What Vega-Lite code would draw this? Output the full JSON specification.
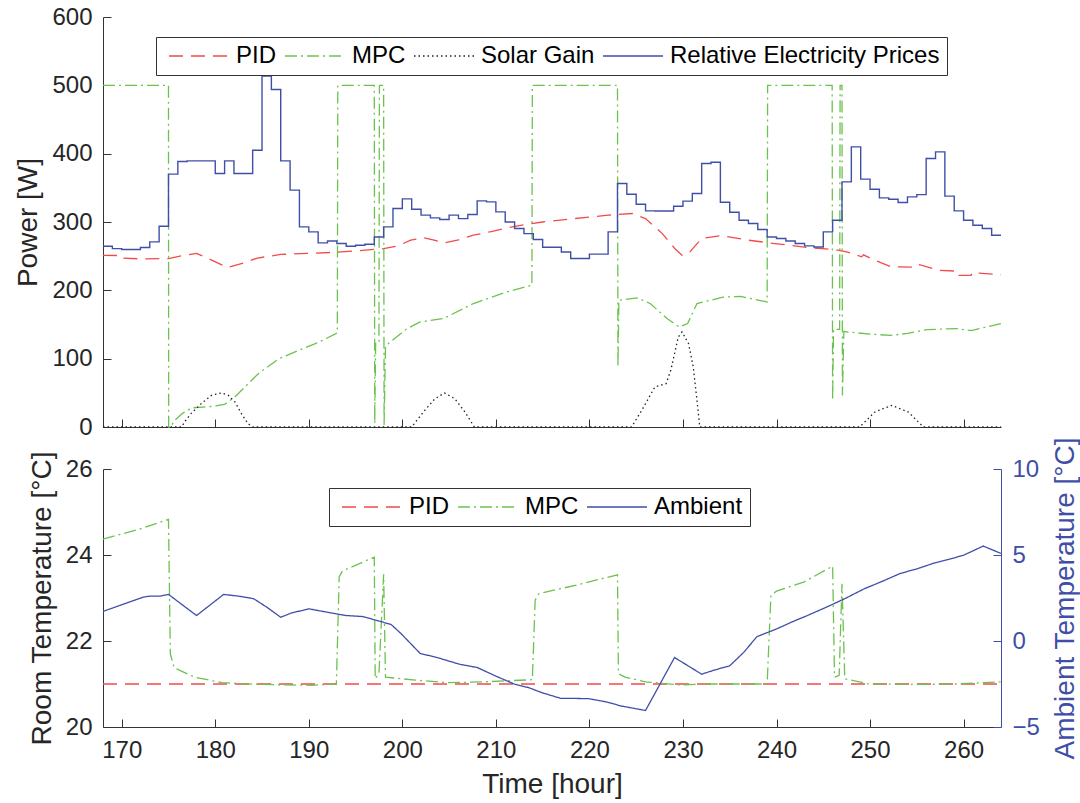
{
  "$schema": "https://vega.github.io/schema/vega-lite/v6.json",
  "background": "white",
  "padding": {"left": 14, "top": 5, "right": 4, "bottom": 2},
  "spacing": 42,
  "bounds": "flush",
  "config": {
    "font": "Liberation Sans",
    "view": {"stroke": null},
    "axis": {
      "grid": false,
      "domainColor": "#333333",
      "tickColor": "#333333",
      "labelColor": "#262626",
      "titleColor": "#262626",
      "labelFont": "Liberation Sans",
      "titleFont": "Liberation Sans",
      "labelFontSize": 24,
      "titleFontSize": 28,
      "titleFontWeight": "normal",
      "tickSize": -8,
      "labelPadding": 19,
      "titlePadding": 9,
      "domainWidth": 1,
      "tickWidth": 1
    },
    "legend": {
      "labelFont": "Liberation Sans",
      "labelFontSize": 24,
      "labelColor": "#000000",
      "symbolType": "M-3,0H3",
      "symbolSize": 400,
      "symbolOffset": 24,
      "symbolStrokeWidth": 1.3,
      "symbolFillColor": "transparent",
      "strokeColor": "#333333",
      "fillColor": "white",
      "padding": 7,
      "columnPadding": 2,
      "labelOffset": 25,
      "labelLimit": 400
    }
  },
  "resolve": {
    "scale": {"color": "independent", "strokeDash": "independent", "x": "independent"},
    "legend": {"color": "independent", "strokeDash": "independent"}
  },
  "datasets": {
    "power": [
      {"s": "PID", "t": 168, "v": 251.3},
      {"s": "PID", "t": 169.5, "v": 251},
      {"s": "PID", "t": 169.6, "v": 247.5},
      {"s": "PID", "t": 172, "v": 246},
      {"s": "PID", "t": 175, "v": 246.5},
      {"s": "PID", "t": 176.5, "v": 251},
      {"s": "PID", "t": 178, "v": 254},
      {"s": "PID", "t": 179.5, "v": 245},
      {"s": "PID", "t": 181.3, "v": 233.4},
      {"s": "PID", "t": 183, "v": 240},
      {"s": "PID", "t": 184.5, "v": 247.2},
      {"s": "PID", "t": 187, "v": 252.5},
      {"s": "PID", "t": 189.8, "v": 254},
      {"s": "PID", "t": 192.5, "v": 255.5},
      {"s": "PID", "t": 195.1, "v": 257.7},
      {"s": "PID", "t": 198, "v": 261},
      {"s": "PID", "t": 199.5, "v": 265},
      {"s": "PID", "t": 200.9, "v": 273.4},
      {"s": "PID", "t": 202.3, "v": 276.8},
      {"s": "PID", "t": 203.5, "v": 273},
      {"s": "PID", "t": 204.5, "v": 269.4},
      {"s": "PID", "t": 206, "v": 274},
      {"s": "PID", "t": 207.6, "v": 280.7},
      {"s": "PID", "t": 209.5, "v": 286},
      {"s": "PID", "t": 211.2, "v": 291.4},
      {"s": "PID", "t": 213, "v": 296},
      {"s": "PID", "t": 215, "v": 300},
      {"s": "PID", "t": 218.4, "v": 305},
      {"s": "PID", "t": 222, "v": 310},
      {"s": "PID", "t": 224.6, "v": 312.4},
      {"s": "PID", "t": 226, "v": 305},
      {"s": "PID", "t": 227.8, "v": 283},
      {"s": "PID", "t": 229.2, "v": 260},
      {"s": "PID", "t": 229.9, "v": 251.4},
      {"s": "PID", "t": 230.6, "v": 253.8},
      {"s": "PID", "t": 231.3, "v": 265},
      {"s": "PID", "t": 232, "v": 275.8},
      {"s": "PID", "t": 234.1, "v": 280.2},
      {"s": "PID", "t": 237, "v": 273.4},
      {"s": "PID", "t": 239.8, "v": 268.5},
      {"s": "PID", "t": 243.4, "v": 262.6},
      {"s": "PID", "t": 246.2, "v": 259.7},
      {"s": "PID", "t": 247.6, "v": 256},
      {"s": "PID", "t": 249.1, "v": 249},
      {"s": "PID", "t": 249.3, "v": 252},
      {"s": "PID", "t": 250.5, "v": 244},
      {"s": "PID", "t": 252.3, "v": 234.3},
      {"s": "PID", "t": 255.1, "v": 234},
      {"s": "PID", "t": 255.3, "v": 237.5},
      {"s": "PID", "t": 257.3, "v": 229.4},
      {"s": "PID", "t": 259.4, "v": 228},
      {"s": "PID", "t": 259.5, "v": 222},
      {"s": "PID", "t": 260.8, "v": 222},
      {"s": "PID", "t": 260.9, "v": 226},
      {"s": "PID", "t": 264, "v": 223},

      {"s": "MPC", "t": 168, "v": 500},
      {"s": "MPC", "t": 175.0, "v": 500},
      {"s": "MPC", "t": 175.02, "v": 0},
      {"s": "MPC", "t": 175.25, "v": 0},
      {"s": "MPC", "t": 175.6, "v": 9},
      {"s": "MPC", "t": 176.5, "v": 20},
      {"s": "MPC", "t": 177.5, "v": 28},
      {"s": "MPC", "t": 179.6, "v": 30},
      {"s": "MPC", "t": 181, "v": 33},
      {"s": "MPC", "t": 182.1, "v": 44},
      {"s": "MPC", "t": 184.6, "v": 78},
      {"s": "MPC", "t": 186.8, "v": 100},
      {"s": "MPC", "t": 188.9, "v": 112},
      {"s": "MPC", "t": 191.1, "v": 124.4},
      {"s": "MPC", "t": 193.05, "v": 137.6},
      {"s": "MPC", "t": 193.1, "v": 500},
      {"s": "MPC", "t": 197.0, "v": 500},
      {"s": "MPC", "t": 197.05, "v": 5},
      {"s": "MPC", "t": 197.15, "v": 125},
      {"s": "MPC", "t": 197.5, "v": 125},
      {"s": "MPC", "t": 197.55, "v": 500},
      {"s": "MPC", "t": 198.0, "v": 500},
      {"s": "MPC", "t": 198.05, "v": 3},
      {"s": "MPC", "t": 198.2, "v": 118},
      {"s": "MPC", "t": 198.5, "v": 122},
      {"s": "MPC", "t": 200.5, "v": 144},
      {"s": "MPC", "t": 201.9, "v": 153.7},
      {"s": "MPC", "t": 204.4, "v": 158.7},
      {"s": "MPC", "t": 207.6, "v": 180.7},
      {"s": "MPC", "t": 211.2, "v": 197.7},
      {"s": "MPC", "t": 213.85, "v": 207.5},
      {"s": "MPC", "t": 213.9, "v": 500},
      {"s": "MPC", "t": 223.0, "v": 500},
      {"s": "MPC", "t": 223.05, "v": 88},
      {"s": "MPC", "t": 223.15, "v": 185.5},
      {"s": "MPC", "t": 225.1, "v": 189},
      {"s": "MPC", "t": 226.5, "v": 180.7},
      {"s": "MPC", "t": 228.3, "v": 158.7},
      {"s": "MPC", "t": 229.6, "v": 146.4},
      {"s": "MPC", "t": 230.5, "v": 151.4},
      {"s": "MPC", "t": 231.5, "v": 180.7},
      {"s": "MPC", "t": 234.4, "v": 190.3},
      {"s": "MPC", "t": 236.2, "v": 191},
      {"s": "MPC", "t": 239.0, "v": 183},
      {"s": "MPC", "t": 239.05, "v": 500},
      {"s": "MPC", "t": 245.95, "v": 500},
      {"s": "MPC", "t": 246.0, "v": 39},
      {"s": "MPC", "t": 246.1, "v": 143},
      {"s": "MPC", "t": 246.75, "v": 143},
      {"s": "MPC", "t": 246.8, "v": 500},
      {"s": "MPC", "t": 247.0, "v": 500},
      {"s": "MPC", "t": 247.05, "v": 46},
      {"s": "MPC", "t": 247.2, "v": 140},
      {"s": "MPC", "t": 247.6, "v": 139},
      {"s": "MPC", "t": 250, "v": 136},
      {"s": "MPC", "t": 252.2, "v": 134},
      {"s": "MPC", "t": 254, "v": 137},
      {"s": "MPC", "t": 256.1, "v": 142.6},
      {"s": "MPC", "t": 259.3, "v": 144},
      {"s": "MPC", "t": 260.8, "v": 141},
      {"s": "MPC", "t": 264, "v": 151.4},

      {"s": "Solar Gain", "t": 168, "v": 0},
      {"s": "Solar Gain", "t": 176.4, "v": 0},
      {"s": "Solar Gain", "t": 176.8, "v": 8.8},
      {"s": "Solar Gain", "t": 177.4, "v": 19.6},
      {"s": "Solar Gain", "t": 178.5, "v": 34.2},
      {"s": "Solar Gain", "t": 179.6, "v": 46.4},
      {"s": "Solar Gain", "t": 180.65, "v": 49.8},
      {"s": "Solar Gain", "t": 181.4, "v": 46.4},
      {"s": "Solar Gain", "t": 182.1, "v": 36.6},
      {"s": "Solar Gain", "t": 182.8, "v": 19.6},
      {"s": "Solar Gain", "t": 183.5, "v": 5},
      {"s": "Solar Gain", "t": 184, "v": 0},
      {"s": "Solar Gain", "t": 201.0, "v": 0},
      {"s": "Solar Gain", "t": 202.4, "v": 24.4},
      {"s": "Solar Gain", "t": 203.5, "v": 41.5},
      {"s": "Solar Gain", "t": 204.5, "v": 49.8},
      {"s": "Solar Gain", "t": 205.6, "v": 41.5},
      {"s": "Solar Gain", "t": 206.7, "v": 21.9},
      {"s": "Solar Gain", "t": 207.7, "v": 0},
      {"s": "Solar Gain", "t": 224.5, "v": 0},
      {"s": "Solar Gain", "t": 225.6, "v": 24.4},
      {"s": "Solar Gain", "t": 227.0, "v": 58.6},
      {"s": "Solar Gain", "t": 228.2, "v": 63.5},
      {"s": "Solar Gain", "t": 228.7, "v": 83},
      {"s": "Solar Gain", "t": 229.5, "v": 131.8},
      {"s": "Solar Gain", "t": 229.9, "v": 139},
      {"s": "Solar Gain", "t": 230.6, "v": 122},
      {"s": "Solar Gain", "t": 231.1, "v": 87.8},
      {"s": "Solar Gain", "t": 231.5, "v": 39},
      {"s": "Solar Gain", "t": 231.8, "v": 0},
      {"s": "Solar Gain", "t": 248.9, "v": 0},
      {"s": "Solar Gain", "t": 250.5, "v": 21.9},
      {"s": "Solar Gain", "t": 252.3, "v": 31.7},
      {"s": "Solar Gain", "t": 254.1, "v": 21.9},
      {"s": "Solar Gain", "t": 255.7, "v": 0},
      {"s": "Solar Gain", "t": 264, "v": 0},

      {"s": "Relative Electricity Prices", "t": 168, "v": 264.6},
      {"s": "Relative Electricity Prices", "t": 169, "v": 261},
      {"s": "Relative Electricity Prices", "t": 170, "v": 259.7},
      {"s": "Relative Electricity Prices", "t": 171, "v": 259.7},
      {"s": "Relative Electricity Prices", "t": 172, "v": 262.6},
      {"s": "Relative Electricity Prices", "t": 173, "v": 270.9},
      {"s": "Relative Electricity Prices", "t": 174, "v": 293.8},
      {"s": "Relative Electricity Prices", "t": 175, "v": 370},
      {"s": "Relative Electricity Prices", "t": 176, "v": 388.6},
      {"s": "Relative Electricity Prices", "t": 177, "v": 389.5},
      {"s": "Relative Electricity Prices", "t": 178, "v": 389.5},
      {"s": "Relative Electricity Prices", "t": 179, "v": 389.5},
      {"s": "Relative Electricity Prices", "t": 180, "v": 371},
      {"s": "Relative Electricity Prices", "t": 181, "v": 389.5},
      {"s": "Relative Electricity Prices", "t": 182, "v": 371},
      {"s": "Relative Electricity Prices", "t": 183, "v": 371},
      {"s": "Relative Electricity Prices", "t": 184, "v": 405},
      {"s": "Relative Electricity Prices", "t": 185, "v": 513.5},
      {"s": "Relative Electricity Prices", "t": 186, "v": 494},
      {"s": "Relative Electricity Prices", "t": 187, "v": 389.5},
      {"s": "Relative Electricity Prices", "t": 188, "v": 346.6},
      {"s": "Relative Electricity Prices", "t": 189, "v": 292.8},
      {"s": "Relative Electricity Prices", "t": 190, "v": 285.5},
      {"s": "Relative Electricity Prices", "t": 191, "v": 269.4},
      {"s": "Relative Electricity Prices", "t": 192, "v": 272.3},
      {"s": "Relative Electricity Prices", "t": 193, "v": 268.5},
      {"s": "Relative Electricity Prices", "t": 194, "v": 264.6},
      {"s": "Relative Electricity Prices", "t": 195, "v": 266},
      {"s": "Relative Electricity Prices", "t": 196, "v": 267.5},
      {"s": "Relative Electricity Prices", "t": 197, "v": 278},
      {"s": "Relative Electricity Prices", "t": 198, "v": 292.8},
      {"s": "Relative Electricity Prices", "t": 199, "v": 319.8},
      {"s": "Relative Electricity Prices", "t": 200, "v": 333.8},
      {"s": "Relative Electricity Prices", "t": 201, "v": 318.7},
      {"s": "Relative Electricity Prices", "t": 202, "v": 310},
      {"s": "Relative Electricity Prices", "t": 203, "v": 306},
      {"s": "Relative Electricity Prices", "t": 204, "v": 303.6},
      {"s": "Relative Electricity Prices", "t": 205, "v": 310},
      {"s": "Relative Electricity Prices", "t": 206, "v": 305},
      {"s": "Relative Electricity Prices", "t": 207, "v": 311},
      {"s": "Relative Electricity Prices", "t": 208, "v": 330.9},
      {"s": "Relative Electricity Prices", "t": 209, "v": 329.5},
      {"s": "Relative Electricity Prices", "t": 210, "v": 314.8},
      {"s": "Relative Electricity Prices", "t": 211, "v": 300},
      {"s": "Relative Electricity Prices", "t": 212, "v": 290.5},
      {"s": "Relative Electricity Prices", "t": 213, "v": 283},
      {"s": "Relative Electricity Prices", "t": 214, "v": 274.4},
      {"s": "Relative Electricity Prices", "t": 215, "v": 263},
      {"s": "Relative Electricity Prices", "t": 216, "v": 263},
      {"s": "Relative Electricity Prices", "t": 217, "v": 256.2},
      {"s": "Relative Electricity Prices", "t": 218, "v": 246.5},
      {"s": "Relative Electricity Prices", "t": 219, "v": 246.5},
      {"s": "Relative Electricity Prices", "t": 220, "v": 253},
      {"s": "Relative Electricity Prices", "t": 221, "v": 253},
      {"s": "Relative Electricity Prices", "t": 222, "v": 285.5},
      {"s": "Relative Electricity Prices", "t": 223, "v": 356.4},
      {"s": "Relative Electricity Prices", "t": 224, "v": 340.7},
      {"s": "Relative Electricity Prices", "t": 225, "v": 326},
      {"s": "Relative Electricity Prices", "t": 226, "v": 316.3},
      {"s": "Relative Electricity Prices", "t": 227, "v": 316},
      {"s": "Relative Electricity Prices", "t": 228, "v": 316},
      {"s": "Relative Electricity Prices", "t": 229, "v": 323},
      {"s": "Relative Electricity Prices", "t": 230, "v": 330.5},
      {"s": "Relative Electricity Prices", "t": 231, "v": 341.7},
      {"s": "Relative Electricity Prices", "t": 232, "v": 385.7},
      {"s": "Relative Electricity Prices", "t": 233, "v": 387.5},
      {"s": "Relative Electricity Prices", "t": 234, "v": 329},
      {"s": "Relative Electricity Prices", "t": 235, "v": 314.3},
      {"s": "Relative Electricity Prices", "t": 236, "v": 302.6},
      {"s": "Relative Electricity Prices", "t": 237, "v": 297.8},
      {"s": "Relative Electricity Prices", "t": 238, "v": 289},
      {"s": "Relative Electricity Prices", "t": 239, "v": 278},
      {"s": "Relative Electricity Prices", "t": 240, "v": 275.8},
      {"s": "Relative Electricity Prices", "t": 241, "v": 272.3},
      {"s": "Relative Electricity Prices", "t": 242, "v": 268.5},
      {"s": "Relative Electricity Prices", "t": 243, "v": 265},
      {"s": "Relative Electricity Prices", "t": 244, "v": 263.5},
      {"s": "Relative Electricity Prices", "t": 245, "v": 285.5},
      {"s": "Relative Electricity Prices", "t": 246, "v": 302.6},
      {"s": "Relative Electricity Prices", "t": 247, "v": 358.7},
      {"s": "Relative Electricity Prices", "t": 248, "v": 410},
      {"s": "Relative Electricity Prices", "t": 249, "v": 362.7},
      {"s": "Relative Electricity Prices", "t": 250, "v": 348},
      {"s": "Relative Electricity Prices", "t": 251, "v": 335.3},
      {"s": "Relative Electricity Prices", "t": 252, "v": 333.4},
      {"s": "Relative Electricity Prices", "t": 253, "v": 328.5},
      {"s": "Relative Electricity Prices", "t": 254, "v": 336.8},
      {"s": "Relative Electricity Prices", "t": 255, "v": 340},
      {"s": "Relative Electricity Prices", "t": 256, "v": 393},
      {"s": "Relative Electricity Prices", "t": 257, "v": 402.6},
      {"s": "Relative Electricity Prices", "t": 258, "v": 337.8},
      {"s": "Relative Electricity Prices", "t": 259, "v": 316.3},
      {"s": "Relative Electricity Prices", "t": 260, "v": 302.6},
      {"s": "Relative Electricity Prices", "t": 261, "v": 295.3},
      {"s": "Relative Electricity Prices", "t": 262, "v": 290.5},
      {"s": "Relative Electricity Prices", "t": 263, "v": 280.7},
      {"s": "Relative Electricity Prices", "t": 264, "v": 280.7}
    ],
    "temp": [
      {"s": "PID", "t": 168, "v": 21.0},
      {"s": "PID", "t": 216, "v": 21.0},
      {"s": "PID", "t": 264, "v": 21.0},

      {"s": "MPC", "t": 168, "v": 24.37},
      {"s": "MPC", "t": 171.9, "v": 24.6},
      {"s": "MPC", "t": 175.0, "v": 24.83},
      {"s": "MPC", "t": 175.2, "v": 21.7},
      {"s": "MPC", "t": 175.6, "v": 21.38},
      {"s": "MPC", "t": 177.8, "v": 21.16},
      {"s": "MPC", "t": 180.7, "v": 21.03},
      {"s": "MPC", "t": 184.8, "v": 20.99},
      {"s": "MPC", "t": 190.3, "v": 20.97},
      {"s": "MPC", "t": 192.95, "v": 21.0},
      {"s": "MPC", "t": 193.25, "v": 23.49},
      {"s": "MPC", "t": 193.6, "v": 23.63},
      {"s": "MPC", "t": 197.0, "v": 23.95},
      {"s": "MPC", "t": 197.1, "v": 21.12},
      {"s": "MPC", "t": 197.5, "v": 21.24},
      {"s": "MPC", "t": 198.0, "v": 23.55},
      {"s": "MPC", "t": 198.2, "v": 21.16},
      {"s": "MPC", "t": 201.4, "v": 21.09},
      {"s": "MPC", "t": 205, "v": 21.03},
      {"s": "MPC", "t": 208.7, "v": 21.05},
      {"s": "MPC", "t": 213.9, "v": 21.1},
      {"s": "MPC", "t": 214.2, "v": 22.95},
      {"s": "MPC", "t": 214.6, "v": 23.1},
      {"s": "MPC", "t": 218.6, "v": 23.3},
      {"s": "MPC", "t": 223.0, "v": 23.54},
      {"s": "MPC", "t": 223.1, "v": 21.24},
      {"s": "MPC", "t": 223.8, "v": 21.16},
      {"s": "MPC", "t": 226, "v": 21.05},
      {"s": "MPC", "t": 229.6, "v": 20.98},
      {"s": "MPC", "t": 233.3, "v": 21.0},
      {"s": "MPC", "t": 239.0, "v": 21.0},
      {"s": "MPC", "t": 239.4, "v": 23.06},
      {"s": "MPC", "t": 240, "v": 23.16},
      {"s": "MPC", "t": 242.9, "v": 23.37},
      {"s": "MPC", "t": 246.0, "v": 23.74},
      {"s": "MPC", "t": 246.2, "v": 21.16},
      {"s": "MPC", "t": 246.7, "v": 21.2},
      {"s": "MPC", "t": 247.0, "v": 23.33},
      {"s": "MPC", "t": 247.3, "v": 21.12},
      {"s": "MPC", "t": 249.9, "v": 21.0},
      {"s": "MPC", "t": 255.4, "v": 20.99},
      {"s": "MPC", "t": 259.1, "v": 21.0},
      {"s": "MPC", "t": 264, "v": 21.05},

      {"s": "Ambient", "t": 168, "v": 1.72},
      {"s": "Ambient", "t": 169.3, "v": 1.97},
      {"s": "Ambient", "t": 172.3, "v": 2.55},
      {"s": "Ambient", "t": 173.0, "v": 2.61},
      {"s": "Ambient", "t": 174.1, "v": 2.61},
      {"s": "Ambient", "t": 175.0, "v": 2.71},
      {"s": "Ambient", "t": 178.0, "v": 1.48},
      {"s": "Ambient", "t": 180.9, "v": 2.71},
      {"s": "Ambient", "t": 182.6, "v": 2.6},
      {"s": "Ambient", "t": 184.1, "v": 2.46},
      {"s": "Ambient", "t": 185.5, "v": 1.97},
      {"s": "Ambient", "t": 187.0, "v": 1.38},
      {"s": "Ambient", "t": 188.1, "v": 1.62},
      {"s": "Ambient", "t": 190.0, "v": 1.87},
      {"s": "Ambient", "t": 192.5, "v": 1.62},
      {"s": "Ambient", "t": 194.0, "v": 1.48},
      {"s": "Ambient", "t": 195.8, "v": 1.42},
      {"s": "Ambient", "t": 197.3, "v": 1.19},
      {"s": "Ambient", "t": 198.8, "v": 0.96},
      {"s": "Ambient", "t": 199.9, "v": 0.41},
      {"s": "Ambient", "t": 201.9, "v": -0.72},
      {"s": "Ambient", "t": 203.9, "v": -0.99},
      {"s": "Ambient", "t": 206.1, "v": -1.35},
      {"s": "Ambient", "t": 208.0, "v": -1.54},
      {"s": "Ambient", "t": 210.2, "v": -2.09},
      {"s": "Ambient", "t": 212.0, "v": -2.51},
      {"s": "Ambient", "t": 213.5, "v": -2.71},
      {"s": "Ambient", "t": 214.9, "v": -3.0},
      {"s": "Ambient", "t": 216.9, "v": -3.33},
      {"s": "Ambient", "t": 219.9, "v": -3.35},
      {"s": "Ambient", "t": 221.9, "v": -3.55},
      {"s": "Ambient", "t": 223.4, "v": -3.78},
      {"s": "Ambient", "t": 226.0, "v": -4.04},
      {"s": "Ambient", "t": 229.1, "v": -0.96},
      {"s": "Ambient", "t": 232.0, "v": -1.93},
      {"s": "Ambient", "t": 233.3, "v": -1.7},
      {"s": "Ambient", "t": 235.0, "v": -1.44},
      {"s": "Ambient", "t": 236.5, "v": -0.66},
      {"s": "Ambient", "t": 237.9, "v": 0.25},
      {"s": "Ambient", "t": 240.0, "v": 0.7},
      {"s": "Ambient", "t": 242.0, "v": 1.19},
      {"s": "Ambient", "t": 243.3, "v": 1.48},
      {"s": "Ambient", "t": 245.1, "v": 1.91},
      {"s": "Ambient", "t": 247.3, "v": 2.46},
      {"s": "Ambient", "t": 249.4, "v": 3.04},
      {"s": "Ambient", "t": 251.4, "v": 3.49},
      {"s": "Ambient", "t": 253.2, "v": 3.92},
      {"s": "Ambient", "t": 255.1, "v": 4.21},
      {"s": "Ambient", "t": 256.9, "v": 4.54},
      {"s": "Ambient", "t": 258.4, "v": 4.74},
      {"s": "Ambient", "t": 260.0, "v": 4.99},
      {"s": "Ambient", "t": 261.0, "v": 5.24},
      {"s": "Ambient", "t": 262.1, "v": 5.52},
      {"s": "Ambient", "t": 264.0, "v": 5.09}
    ]
  },
  "vconcat": [
    {
      "width": 898,
      "height": 410,
      "data": {"name": "power"},
      "encoding": {
        "x": {"field": "t", "type": "quantitative", "scale": {"domain": [168, 264], "nice": false, "zero": false},
              "axis": {"values": [170, 180, 190, 200, 210, 220, 230, 240, 250, 260], "labels": false, "title": null}},
        "y": {"field": "v", "type": "quantitative", "scale": {"domain": [0, 600], "nice": false},
              "axis": {"values": [0, 100, 200, 300, 400, 500, 600], "title": "Power [W]"}},
        "color": {"field": "s", "type": "nominal",
                  "scale": {"domain": ["PID", "MPC", "Solar Gain", "Relative Electricity Prices"], "range": ["#F24A4A", "#6CC24E", "#222222", "#3F4FA8"]},
                  "legend": {"orient": "none", "legendX": 53, "legendY": 20, "direction": "horizontal", "title": null}},
        "strokeDash": {"field": "s", "type": "nominal",
                  "scale": {"domain": ["PID", "MPC", "Solar Gain", "Relative Electricity Prices"], "range": [[14, 8], [12, 4, 2, 4], [1.5, 3], [1, 0]]},
                  "legend": {"orient": "none", "legendX": 53, "legendY": 20, "direction": "horizontal", "title": null}}
      },
      "layer": [
        {"transform": [{"filter": "datum.s !== 'Relative Electricity Prices'"}],
         "mark": {"type": "line", "strokeWidth": 1.3}},
        {"transform": [{"filter": "datum.s === 'Relative Electricity Prices'"}],
         "mark": {"type": "line", "interpolate": "step-after", "strokeWidth": 1.4}}
      ]
    },
    {
      "width": 898,
      "height": 258,
      "data": {"name": "temp"},
      "layer": [
        {
          "transform": [{"filter": "datum.s !== 'Ambient'"}],
          "mark": {"type": "line", "strokeWidth": 1.3},
          "encoding": {
            "x": {"field": "t", "type": "quantitative", "scale": {"domain": [168, 264], "nice": false, "zero": false},
                  "axis": {"values": [170, 180, 190, 200, 210, 220, 230, 240, 250, 260], "title": "Time [hour]", "titlePadding": 8}},
            "y": {"field": "v", "type": "quantitative", "scale": {"domain": [20, 26], "nice": false, "zero": false},
                  "axis": {"values": [20, 22, 24, 26], "title": "Room Temperature [°C]"}},
            "color": {"field": "s", "type": "nominal",
                      "scale": {"domain": ["PID", "MPC", "Ambient"], "range": ["#F24A4A", "#6CC24E", "#3F4FA8"]},
                      "legend": {"orient": "none", "legendX": 226, "legendY": 19, "direction": "horizontal", "title": null}},
            "strokeDash": {"field": "s", "type": "nominal",
                      "scale": {"domain": ["PID", "MPC", "Ambient"], "range": [[14, 8], [12, 4, 2, 4], [1, 0]]},
                      "legend": {"orient": "none", "legendX": 226, "legendY": 19, "direction": "horizontal", "title": null}}
          }
        },
        {
          "transform": [{"filter": "datum.s === 'Ambient'"}],
          "mark": {"type": "line", "strokeWidth": 1.3},
          "encoding": {
            "x": {"field": "t", "type": "quantitative"},
            "y": {"field": "v", "type": "quantitative", "scale": {"domain": [-5, 10], "nice": false, "zero": false},
                  "axis": {"orient": "right", "values": [-5, 0, 5, 10], "title": "Ambient Temperature [°C]",
                           "domainColor": "#3F4FA8", "tickColor": "#3F4FA8", "labelColor": "#3F4FA8", "titleColor": "#3F4FA8",
                           "titleAngle": 270, "titleBaseline": "top", "titlePadding": 12}},
            "color": {"field": "s", "type": "nominal",
                      "scale": {"domain": ["PID", "MPC", "Ambient"], "range": ["#F24A4A", "#6CC24E", "#3F4FA8"]},
                      "legend": {"orient": "none", "legendX": 226, "legendY": 19, "direction": "horizontal", "title": null}},
            "strokeDash": {"field": "s", "type": "nominal",
                      "scale": {"domain": ["PID", "MPC", "Ambient"], "range": [[14, 8], [12, 4, 2, 4], [1, 0]]},
                      "legend": {"orient": "none", "legendX": 226, "legendY": 19, "direction": "horizontal", "title": null}}
          }
        }
      ],
      "resolve": {"scale": {"y": "independent"}}
    }
  ]
}
